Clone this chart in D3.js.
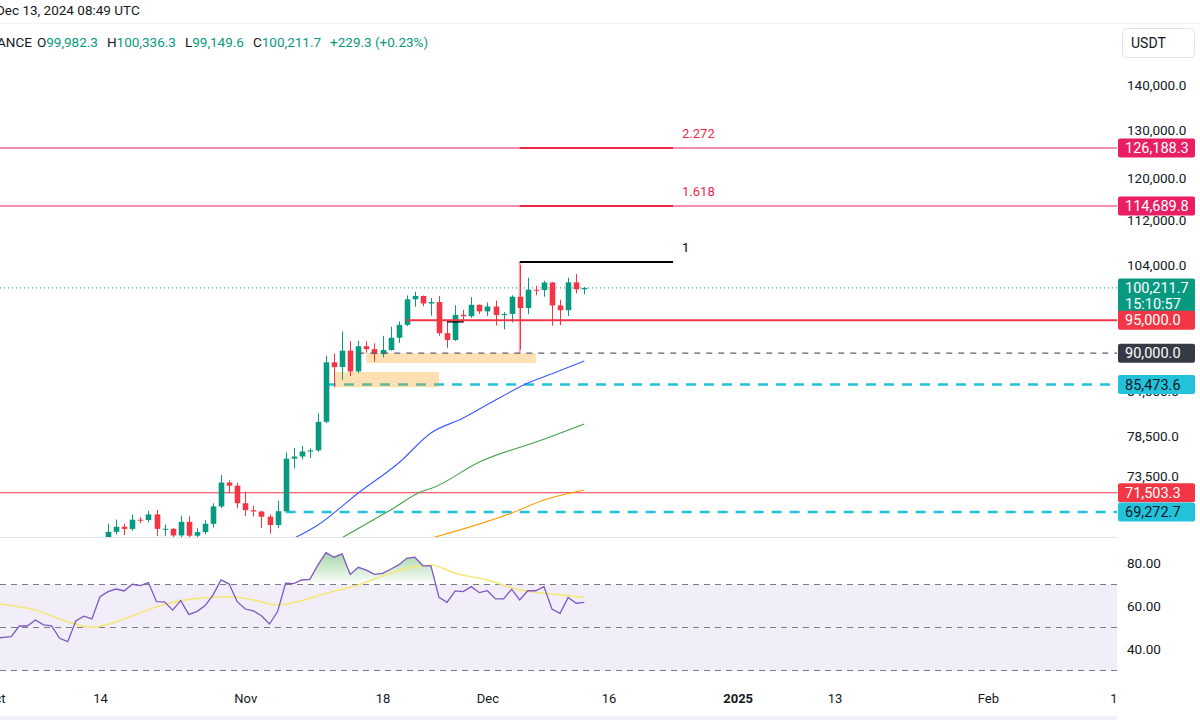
<!DOCTYPE html>
<html>
<head>
<meta charset="utf-8">
<script src="https://cdn.jsdelivr.net/npm/d3@7"></script>
<style>
  body { margin: 0; background: #fff; }
  svg { display: block; font-family: Roboto, "Noto Sans", sans-serif; }
</style>
</head>
<body>
<svg width="1200" height="720"></svg>
<script>
// ---- data ----
const days = [
  '2024-10-10','2024-10-11','2024-10-12','2024-10-13','2024-10-14','2024-10-15','2024-10-16','2024-10-17',
  '2024-10-18','2024-10-19','2024-10-20','2024-10-21','2024-10-22','2024-10-23','2024-10-24','2024-10-25',
  '2024-10-26','2024-10-27','2024-10-28','2024-10-29','2024-10-30','2024-10-31','2024-11-01','2024-11-02',
  '2024-11-03','2024-11-04','2024-11-05','2024-11-06','2024-11-07','2024-11-08','2024-11-09','2024-11-10',
  '2024-11-11','2024-11-12','2024-11-13','2024-11-14','2024-11-15','2024-11-16','2024-11-17','2024-11-18',
  '2024-11-19','2024-11-20','2024-11-21','2024-11-22','2024-11-23','2024-11-24','2024-11-25','2024-11-26',
  '2024-11-27','2024-11-28','2024-11-29','2024-11-30','2024-12-01','2024-12-02','2024-12-03','2024-12-04',
  '2024-12-05','2024-12-06','2024-12-07','2024-12-08','2024-12-09','2024-12-10','2024-12-11','2024-12-12',
  '2024-12-13'
];
const opens = [
  60580, 60270, 62450, 63190, 62850, 66050, 67040, 67610, 67370, 68400, 68360, 69000, 67370, 67380, 66650, 68160,
  66620, 67010, 67940, 69910, 72720, 72340, 70280, 69480, 69330, 68740, 67800, 69360, 75640, 75900, 76540, 76680,
  80370, 88650, 87950, 90375, 87325, 91030, 90590, 89855, 90465, 92310, 94290, 98350, 98890, 97670, 97900, 93010,
  91970, 95860, 95640, 97460, 96410, 97185, 95840, 96000, 98770, 96950, 99920, 99870, 101110, 97360, 96590, 101130,
  99982.3
];
const highs = [
  61320, 63420, 63480, 63290, 66500, 67950, 68420, 67940, 68970, 68690, 69400, 69500, 67840, 67460, 68850, 68780,
  67450, 68340, 70270, 73620, 72960, 72700, 71630, 70000, 69400, 69000, 70570, 76400, 76950, 77250, 76930, 81500,
  89600, 89960, 93270, 91790, 91850, 91780, 91460, 92600, 94000, 94830, 98970, 99590, 98950, 98560, 98870, 94970,
  97400, 96650, 98690, 97500, 97840, 98150, 96300, 99000, 104090, 101900, 100550, 101400, 101200, 98270, 101900, 102540,
  100336.3
];
const lows = [
  58900, 60050, 62450, 62000, 62420, 64800, 66750, 66670, 67150, 68000, 68100, 66570, 66570, 65260, 66450, 65520,
  66430, 66800, 67530, 69730, 71440, 69690, 68820, 68750, 67480, 66840, 67450, 69300, 74420, 75550, 75700, 76500,
  80210, 85070, 86130, 86670, 87070, 90060, 88720, 89375, 90370, 91530, 94100, 97150, 97220, 95730, 92600, 90790,
  91820, 94660, 95380, 96000, 95690, 94200, 93580, 94660, 90500, 95980, 99000, 98770, 94150, 94250, 95680, 99310,
  99149.6
];
const closes = [
  60270, 62450, 63190, 62850, 66050, 67040, 67610, 67370, 68400, 68360, 69000, 67370, 67380, 66650, 68160, 66620,
  67010, 67940, 69910, 72720, 72340, 70280, 69480, 69330, 68740, 67800, 69360, 75640, 75900, 76540, 76680, 80370,
  88650, 87950, 90375, 87325, 91030, 90590, 89855, 90465, 92310, 94290, 98350, 98890, 97670, 97900, 93010, 91970,
  95860, 95640, 97460, 96410, 97185, 95840, 96000, 98770, 96950, 99920, 99870, 101110, 97360, 96590, 101130, 99982.4,
  100211.7
];

// moving averages on the price pane [day, price]
const maBlue = [['2024-11-06', 65900], ['2024-11-10', 67805], ['2024-11-15', 71475], ['2024-11-20', 75100],
  ['2024-11-24', 78900], ['2024-11-28', 80875], ['2024-12-02', 83310], ['2024-12-06', 85680],
  ['2024-12-09', 87000], ['2024-12-13', 88840]];
const maGreen = [['2024-11-12', 65900], ['2024-11-19', 69500], ['2024-11-23', 71710], ['2024-11-24', 72000],
  ['2024-11-30', 75220], ['2024-12-08', 78100], ['2024-12-13', 80080]];
const maOrange = [['2024-11-23', 66100], ['2024-12-04', 69160], ['2024-12-08', 70650], ['2024-12-13', 71830]];

// RSI, one value per day from Oct 1
const rsiStart = '2024-10-01';
const rsiValues = [
  45.0, 45.4, 45.7, 50.7, 50.7, 53.5, 51.2, 50.8, 45.0, 43.4, 53.0, 55.3, 54.0, 64.3, 66.7, 67.9,
  67.0, 70.1, 69.5, 70.9, 62.0, 61.9, 58.1, 62.5, 56.1, 57.4, 60.1, 65.1, 72.1, 70.2, 62.0,
  58.6, 57.7, 55.5, 51.6, 57.4, 70.6, 70.4, 72.1, 72.4, 79.1, 84.8, 82.7, 84.2, 74.7, 78.0,
  76.7, 74.7, 75.2, 77.1, 79.1, 82.2, 82.7, 78.7, 78.7, 64.0, 61.7, 67.0, 66.7, 69.0, 66.2,
  67.1, 63.3, 63.3, 67.8, 62.8, 67.1, 67.1, 69.0, 58.6, 56.6, 64.0, 61.3, 61.7
];
const rsiMa = [['2024-10-01', 61.2], ['2024-10-06', 58.1], ['2024-10-10', 52.7], ['2024-10-13', 50.1],
  ['2024-10-17', 54.0], ['2024-10-21', 59.7], ['2024-10-25', 63.1], ['2024-10-30', 64.3],
  ['2024-11-02', 62.8], ['2024-11-05', 60.5], ['2024-11-08', 62.5], ['2024-11-11', 65.9],
  ['2024-11-15', 69.8], ['2024-11-19', 75.2], ['2024-11-22', 78.3], ['2024-11-24', 79.1],
  ['2024-11-27', 75.2], ['2024-12-01', 72.1], ['2024-12-05', 67.4], ['2024-12-09', 65.6],
  ['2024-12-13', 64.0]];
const rsiBands = [70, 50, 30];
const rsiTicks = [80, 60, 40];

// horizontal levels
const levelNames  = ['target2', 'target1', 'last', 'sup95', 'round90', 'gap85', 'sup71', 'gap69'];
const levelPrices = [126188.3, 114689.8, 100211.7, 95000, 90000, 85473.6, 71503.3, 69272.7];
const levelFrom   = [null, null, null, '2024-11-21', '2024-11-15', '2024-11-11', null, '2024-11-06'];
const countdown = '15:10:57';

// trend-based fib extension
const fibRatios = ['1', '1.618', '2.272'];
const fibPrices = [104576, 114689.8, 126188.3];
const fibBase = 90000;
const fibFrom = '2024-12-05';
const fibTo = '2024-12-24';

// boxes (order blocks)
const zoneFrom = ['2024-11-16', '2024-11-12'];
const zoneTo = ['2024-12-07', '2024-11-25'];
const zoneTop = [90000, 87240];
const zoneBottom = [88550, 85100];

const priceTicks = [73500, 78500, 84500, 90000, 104000, 112000, 120000, 130000, 140000];
const timeTicks = ['2024-10-01', '2024-10-14', '2024-11-01', '2024-11-18', '2024-12-01', '2024-12-16',
  '2025-01-01', '2025-01-13', '2025-02-01', '2025-02-17'];
const timeLabels = ['Oct', '14', 'Nov', '18', 'Dec', '16', '2025', '13', 'Feb', '17'];

// ---- layout ----
const width = 1200;
const height = 720;
const plotRight = 1117;
const paneSplit = 537;
const rsiBottom = 688;
const up = '#089981';
const down = '#F23645';
const ink = '#131722';

const parse = d3.utcParse('%Y-%m-%d');
const fmt = d3.format(',.1f');

const x = d3.scaleUtc()
  .domain([parse('2024-10-14'), parse('2025-02-17')])
  .range([100, plotRight]);

const y = d3.scaleLog()
  .domain([69272.7, 126188.3])
  .range([512, 148]);

const yRsi = d3.scaleLinear()
  .domain([30, 70])
  .range([670.5, 584.5]);

const candles = days.map((d, i) => ({
  date: parse(d), o: opens[i], h: highs[i], l: lows[i], c: closes[i]
}));

const svg = d3.select('svg')
  .attr('width', width)
  .attr('height', height);

const defs = svg.append('defs');
defs.append('clipPath').attr('id', 'clip-price')
  .append('rect').attr('x', 0).attr('y', 0).attr('width', plotRight).attr('height', paneSplit);
defs.append('clipPath').attr('id', 'clip-rsi')
  .append('rect').attr('x', 0).attr('y', paneSplit).attr('width', plotRight).attr('height', rsiBottom - paneSplit);
defs.append('clipPath').attr('id', 'clip-ob')
  .append('rect').attr('x', 0).attr('y', paneSplit).attr('width', plotRight).attr('height', yRsi(70) - paneSplit);

const grad = defs.append('linearGradient')
  .attr('id', 'ob-grad')
  .attr('gradientUnits', 'userSpaceOnUse')
  .attr('x1', 0).attr('x2', 0)
  .attr('y1', yRsi(86)).attr('y2', yRsi(70));
grad.append('stop').attr('offset', 0).attr('stop-color', '#4CAF50').attr('stop-opacity', 0.55);
grad.append('stop').attr('offset', 1).attr('stop-color', '#4CAF50').attr('stop-opacity', 0);

// ---- price pane ----
const pane = svg.append('g').attr('clip-path', 'url(#clip-price)');

const levelStyle = {
  target2: { color: '#E91E63', width: 1, dash: null, label: '#E91E63', text: '#fff' },
  target1: { color: '#E91E63', width: 1, dash: null, label: '#E91E63', text: '#fff' },
  last:    { color: up, width: 1, dash: '1,3', label: up, text: '#fff' },
  sup95:   { color: down, width: 2, dash: null, label: down, text: '#fff' },
  round90: { color: '#5D606B', width: 1.3, dash: '6,6', label: '#363A45', text: '#fff' },
  gap85:   { color: '#22C3DA', width: 2.5, dash: '10,8', label: '#22C3DA', text: ink },
  sup71:   { color: down, width: 1, dash: null, label: down, text: '#fff' },
  gap69:   { color: '#22C3DA', width: 2.5, dash: '10,8', label: '#22C3DA', text: ink }
};

function drawLevel(i) {
  const s = levelStyle[levelNames[i]];
  const x0 = levelFrom[i] ? x(parse(levelFrom[i])) : 0;
  pane.append('line')
    .attr('x1', x0).attr('x2', plotRight)
    .attr('y1', y(levelPrices[i])).attr('y2', y(levelPrices[i]))
    .attr('stroke', s.color)
    .attr('stroke-width', s.width)
    .attr('stroke-dasharray', s.dash);
}

// lines sitting under the boxes
['target2', 'target1', 'sup71', 'gap85', 'gap69', 'last'].forEach(n => drawLevel(levelNames.indexOf(n)));

// moving averages
const maLine = d3.line()
  .x(d => x(parse(d[0])))
  .y(d => y(d[1]))
  .curve(d3.curveMonotoneX);
[[maBlue, '#3D5AFE'], [maGreen, '#43A047'], [maOrange, '#FF9800']].forEach(([data, color]) => {
  pane.append('path')
    .datum(data)
    .attr('d', maLine)
    .attr('fill', 'none')
    .attr('stroke', color)
    .attr('stroke-width', 1.1);
});

// order block boxes
pane.selectAll('rect.zone')
  .data(zoneFrom)
  .enter()
  .append('rect')
    .classed('zone', true)
    .attr('x', (d, i) => x(parse(d)))
    .attr('y', (d, i) => y(zoneTop[i]))
    .attr('width', (d, i) => x(parse(zoneTo[i])) - x(parse(d)))
    .attr('height', (d, i) => y(zoneBottom[i]) - y(zoneTop[i]))
    .attr('fill', '#FF9800')
    .attr('fill-opacity', 0.3);

// candles
const bw = 5.6;
const candle = pane.selectAll('g.candle')
  .data(candles)
  .enter()
  .append('g')
    .classed('candle', true)
    .attr('fill', d => d.c >= d.o ? up : down)
    .attr('stroke', d => d.c >= d.o ? up : down);

candle.append('line')
  .attr('x1', d => Math.round(x(d.date)) + 0.5)
  .attr('x2', d => Math.round(x(d.date)) + 0.5)
  .attr('y1', d => y(d.h))
  .attr('y2', d => y(d.l))
  .attr('stroke-width', 1);

candle.append('rect')
  .attr('x', d => Math.round(x(d.date)) + 0.5 - bw / 2)
  .attr('y', d => y(Math.max(d.o, d.c)))
  .attr('width', bw)
  .attr('height', d => Math.max(1, Math.abs(y(d.o) - y(d.c))))
  .attr('stroke', 'none');

// lines drawn on top of candles
['round90', 'sup95'].forEach(n => drawLevel(levelNames.indexOf(n)));

// small anchor mark near the 95k line
pane.append('line')
  .attr('x1', x(parse('2024-11-26'))).attr('x2', x(parse('2024-11-28')))
  .attr('y1', y(94750)).attr('y2', y(94750))
  .attr('stroke', '#000').attr('stroke-width', 1.3);

// fib extension
pane.append('line')
  .attr('x1', x(parse(fibFrom))).attr('x2', x(parse(fibFrom)))
  .attr('y1', y(fibBase)).attr('y2', y(fibPrices[0]))
  .attr('stroke', '#F23645').attr('stroke-opacity', 0.45).attr('stroke-width', 2);

const fib = pane.selectAll('g.fib')
  .data(fibPrices)
  .enter()
  .append('g')
    .classed('fib', true);

fib.append('line')
  .attr('x1', x(parse(fibFrom)))
  .attr('x2', x(parse(fibTo)))
  .attr('y1', d => y(d))
  .attr('y2', d => y(d))
  .attr('stroke', (d, i) => i === 0 ? '#000' : '#F0254A')
  .attr('stroke-width', 2.2);

fib.append('text')
  .text((d, i) => fibRatios[i])
  .attr('x', x(parse(fibTo)) + 9)
  .attr('y', d => y(d) - 10)
  .attr('font-size', 13)
  .attr('fill', (d, i) => i === 0 ? '#000' : '#F0254A');

// ---- RSI pane ----
const rsiPane = svg.append('g').attr('clip-path', 'url(#clip-rsi)');
const rsiData = rsiValues.map((v, i) => [d3.utcDay.offset(parse(rsiStart), i), v]);

rsiPane.append('rect')
  .attr('x', 0)
  .attr('y', yRsi(70))
  .attr('width', plotRight)
  .attr('height', yRsi(30) - yRsi(70))
  .attr('fill', '#7E57C2')
  .attr('fill-opacity', 0.1);

rsiPane.append('path')
  .datum(rsiData)
  .attr('clip-path', 'url(#clip-ob)')
  .attr('d', d3.area().x(d => x(d[0])).y0(yRsi(70)).y1(d => yRsi(d[1])))
  .attr('fill', 'url(#ob-grad)');

rsiPane.selectAll('line.band')
  .data(rsiBands)
  .enter()
  .append('line')
    .classed('band', true)
    .attr('x1', 0).attr('x2', plotRight)
    .attr('y1', d => yRsi(d)).attr('y2', d => yRsi(d))
    .attr('stroke', '#787B86')
    .attr('stroke-width', 1)
    .attr('stroke-dasharray', '6,5');

rsiPane.append('path')
  .datum(rsiMa)
  .attr('d', d3.line().x(d => x(parse(d[0]))).y(d => yRsi(d[1])).curve(d3.curveMonotoneX))
  .attr('fill', 'none')
  .attr('stroke', '#F5E77A')
  .attr('stroke-width', 1.6);

rsiPane.append('path')
  .datum(rsiData)
  .attr('d', d3.line().x(d => x(d[0])).y(d => yRsi(d[1])))
  .attr('fill', 'none')
  .attr('stroke', '#7E57C2')
  .attr('stroke-width', 1.3);

// pane separator
svg.append('line')
  .attr('x1', 0).attr('x2', width)
  .attr('y1', paneSplit + 0.5).attr('y2', paneSplit + 0.5)
  .attr('stroke', '#E0E3EB');

// ---- time axis ----
const timeAxis = svg.append('g')
  .attr('transform', 'translate(0,' + rsiBottom + ')')
  .call(d3.axisBottom(x)
    .tickValues(timeTicks.map(parse))
    .tickSize(0)
    .tickPadding(6)
    .tickFormat((d, i) => timeLabels[i]));
timeAxis.select('.domain').remove();
timeAxis.selectAll('text')
  .attr('font-size', 13)
  .attr('font-family', 'Roboto, "Noto Sans", sans-serif')
  .attr('fill', ink)
  .attr('font-weight', (d, i) => timeLabels[i] === '2025' ? 'bold' : null);

svg.append('rect')
  .attr('x', 0).attr('y', 716).attr('width', width).attr('height', 4)
  .attr('fill', '#F0F3FA');

// ---- price axis ----
svg.append('rect')
  .attr('x', plotRight).attr('y', 0)
  .attr('width', width - plotRight).attr('height', height)
  .attr('fill', '#fff');

const priceAxis = svg.append('g')
  .attr('transform', 'translate(' + plotRight + ',0)')
  .call(d3.axisRight(y)
    .tickValues(priceTicks)
    .tickSize(0)
    .tickPadding(10)
    .tickFormat(fmt));
priceAxis.select('.domain').remove();

const rsiAxis = svg.append('g')
  .attr('transform', 'translate(' + plotRight + ',0)')
  .call(d3.axisRight(yRsi)
    .tickValues(rsiTicks)
    .tickSize(0)
    .tickPadding(10)
    .tickFormat(d3.format('.2f')));
rsiAxis.select('.domain').remove();

svg.selectAll('.tick text')
  .attr('font-family', 'Roboto, "Noto Sans", sans-serif')
  .attr('fill', ink);
priceAxis.selectAll('text').attr('font-size', 13.5);
rsiAxis.selectAll('text').attr('font-size', 13.5);

// price labels on the axis
const labelG = svg.append('g');
levelPrices.forEach((p, i) => {
  const s = levelStyle[levelNames[i]];
  const isLast = levelNames[i] === 'last';
  const h = isLast ? 35 : 19;
  const top = y(p) - 9.5;
  labelG.append('rect')
    .attr('x', plotRight + 1).attr('y', top)
    .attr('width', 77).attr('height', h)
    .attr('rx', 2)
    .attr('fill', s.label);
  labelG.append('text')
    .text(fmt(p))
    .attr('x', plotRight + 8)
    .attr('y', y(p))
    .attr('dy', '0.35em')
    .attr('font-size', 14.5)
    .attr('fill', s.text);
  if (isLast) {
    labelG.append('text')
      .text(countdown)
      .attr('x', plotRight + 8)
      .attr('y', y(p) + 16)
      .attr('dy', '0.35em')
      .attr('font-size', 14.5)
      .attr('fill', s.text);
  }
});

// currency box
svg.append('rect')
  .attr('x', 1122.5).attr('y', 28.5)
  .attr('width', 72).attr('height', 29)
  .attr('rx', 4)
  .attr('fill', '#fff')
  .attr('stroke', '#E0E3EB');
svg.append('text')
  .text('USDT')
  .attr('x', 1131).attr('y', 43)
  .attr('dy', '0.35em')
  .attr('font-size', 14)
  .attr('fill', ink);

// ---- header / legend ----
svg.append('text')
  .text('Dec 13, 2024 08:49 UTC')
  .attr('x', -4).attr('y', 10)
  .attr('dy', '0.35em')
  .attr('font-size', 13.5)
  .attr('fill', ink);

svg.append('line')
  .attr('x1', 0).attr('x2', width)
  .attr('y1', 23.5).attr('y2', 23.5)
  .attr('stroke', '#F0F3FA');

const n = closes.length - 1;
const change = closes[n] - closes[n - 1];
const legendParts = [
  ['ANCE', ink, 0],
  ['O', ink, 5], [fmt(opens[n]), up, 0],
  ['H', ink, 9], [fmt(highs[n]), up, 0],
  ['L', ink, 9], [fmt(lows[n]), up, 0],
  ['C', ink, 9], [fmt(closes[n]), up, 0],
  [d3.format('+.1f')(change) + ' (' + d3.format('+.2%')(change / closes[n - 1]) + ')', up, 9]
];
const legend = svg.append('text')
  .attr('x', -3).attr('y', 42)
  .attr('dy', '0.35em')
  .attr('font-size', 13.5);
legendParts.forEach(([t, c, gap]) => {
  legend.append('tspan').text(t).attr('fill', c).attr('dx', gap);
});
</script>
</body>
</html>
